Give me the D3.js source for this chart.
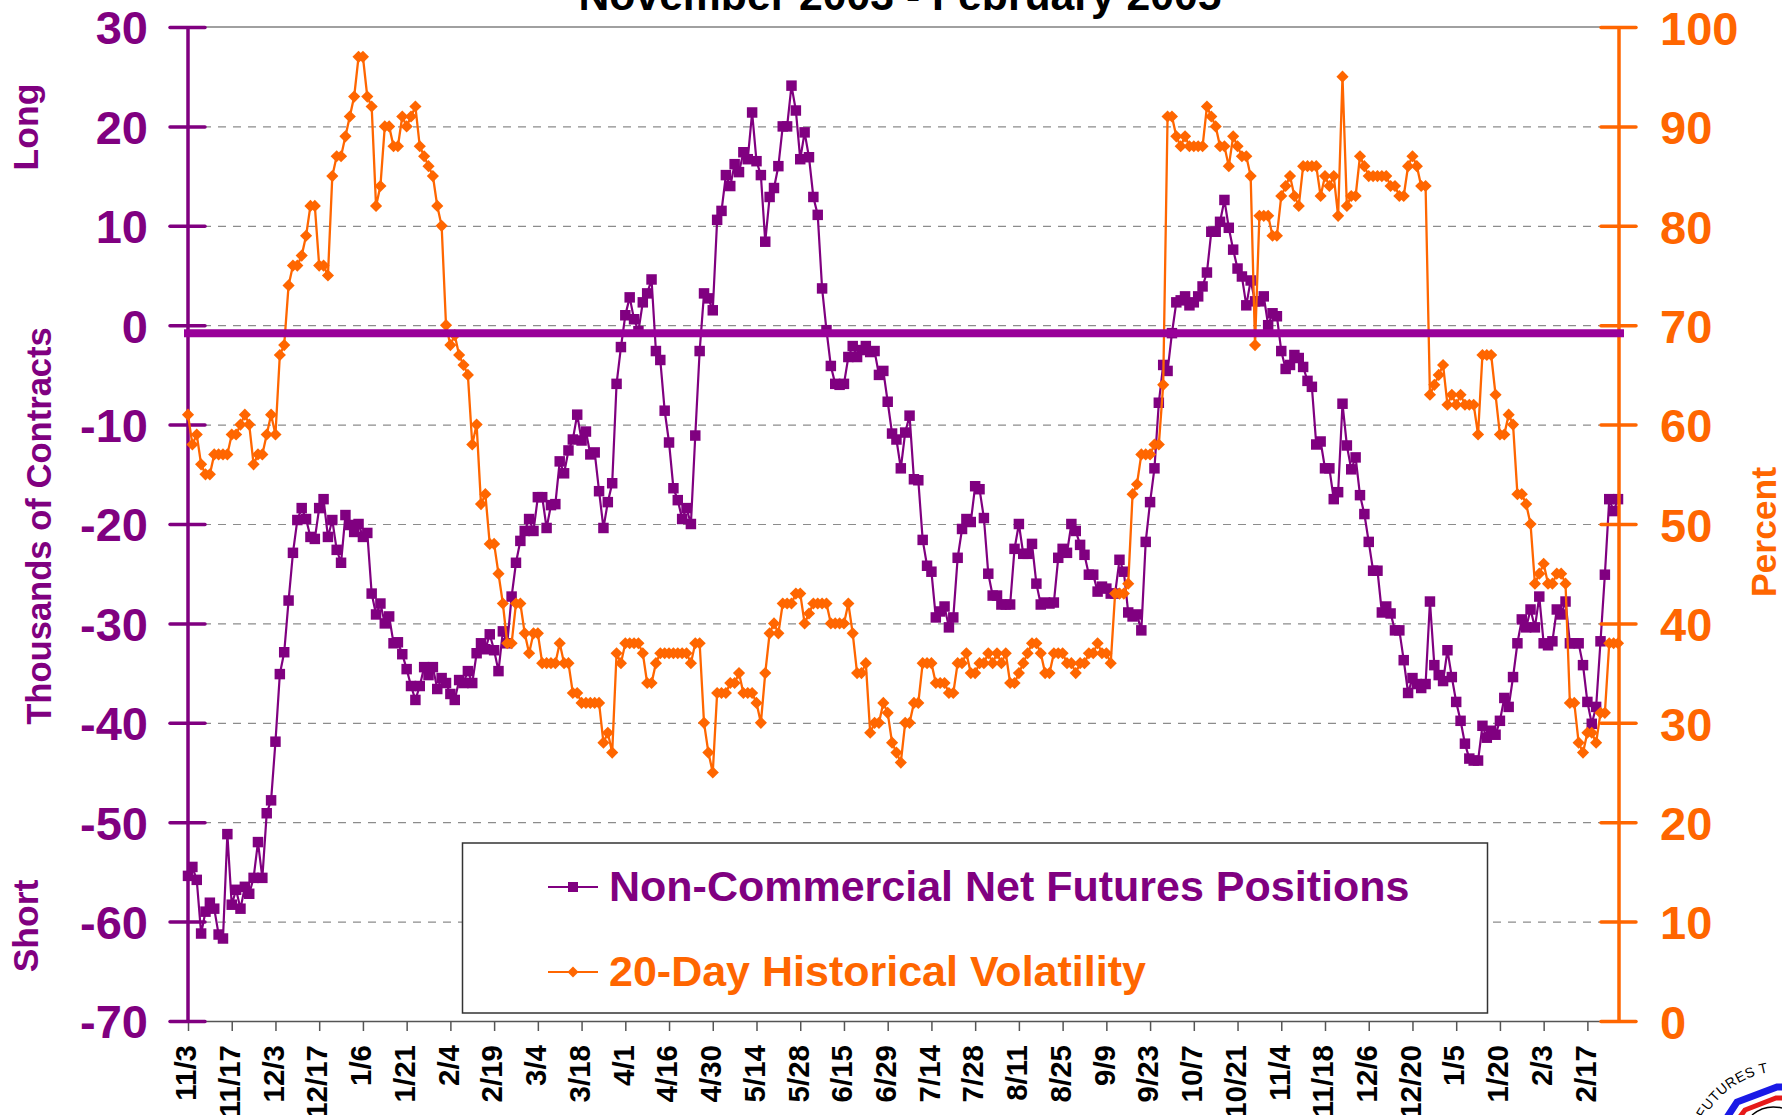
<!DOCTYPE html>
<html>
<head>
<meta charset="utf-8">
<script src="https://cdn.jsdelivr.net/npm/d3@7"></script>
<style>
  html, body { margin: 0; padding: 0; background: #fff; overflow: hidden; }
  text { font-family: "Liberation Sans", Arial, sans-serif; font-weight: bold; }
  text.thin { font-weight: normal; }
</style>
</head>
<body>
<div id="chart"></div>
<script>
const tickLabels = ['11/3','11/17','12/3','12/17','1/6','1/21','2/4','2/19','3/4','3/18','4/1','4/16','4/30','5/14','5/28','6/15','6/29','7/14','7/28','8/11','8/25','9/9','9/23','10/7','10/21','11/4','11/18','12/6','12/20','1/5','1/20','2/3','2/17'];
const leftTicks = [30, 20, 10, 0, -10, -20, -30, -40, -50, -60, -70];
const rightTicks = [100, 90, 80, 70, 60, 50, 40, 30, 20, 10, 0];

// thousands of contracts, one value per trading day
const netPositions = [
  -55.4,-54.5,-55.8,-61.2,-59.0,-58.1,-58.7,-61.3,-61.7,-51.2,
  -58.3,-56.8,-58.7,-56.5,-57.2,-55.6,-52.0,-55.6,-49.1,-47.8,
  -41.9,-35.1,-32.9,-27.7,-22.9,-19.6,-18.4,-19.5,-21.3,-21.5,
  -18.4,-17.5,-21.3,-19.6,-22.6,-23.9,-19.1,-20.1,-20.8,-20.0,
  -21.3,-20.9,-27.0,-29.1,-28.0,-30.0,-29.3,-32.0,-31.9,-33.1,
  -34.6,-36.3,-37.7,-36.3,-34.4,-35.2,-34.4,-36.6,-35.5,-36.0,
  -37.1,-37.7,-35.7,-36.0,-34.8,-36.0,-33.0,-32.0,-32.6,-31.1,
  -32.7,-34.8,-30.8,-32.0,-27.3,-23.9,-21.7,-20.7,-19.5,-20.7,
  -17.3,-17.3,-20.4,-18.1,-18.0,-13.7,-14.9,-12.6,-11.5,-9.0,
  -11.6,-10.7,-13.0,-12.8,-16.7,-20.4,-17.8,-15.9,-5.9,-2.2,
  1.0,2.8,0.6,-0.6,2.3,3.2,4.6,-2.6,-3.5,-8.6,
  -11.8,-16.4,-17.6,-19.5,-18.4,-20.0,-11.1,-2.6,3.2,2.7,
  1.5,10.6,11.5,15.1,14.0,16.2,15.4,17.4,16.7,21.4,
  16.5,15.1,8.4,12.9,13.8,16.0,20.0,20.0,24.1,21.6,
  16.7,19.4,16.9,12.9,11.1,3.7,-0.5,-4.1,-5.9,-6.0,
  -5.9,-3.2,-2.1,-3.2,-2.5,-2.1,-2.7,-2.6,-5.0,-4.6,
  -7.7,-10.9,-11.5,-14.4,-10.8,-9.1,-15.5,-15.6,-21.6,-24.2,
  -24.8,-29.4,-28.8,-28.3,-30.4,-29.4,-23.4,-20.5,-19.5,-19.8,
  -16.2,-16.5,-19.4,-25.0,-27.2,-27.2,-28.1,-28.1,-28.1,-22.5,
  -20.0,-23.0,-23.0,-22.0,-26.0,-28.1,-27.9,-28.0,-27.9,-23.4,
  -22.5,-22.9,-20.0,-20.7,-22.1,-23.1,-25.1,-25.1,-26.8,-26.3,
  -26.5,-27.0,-27.0,-23.6,-24.8,-28.9,-29.3,-29.1,-30.7,-21.8,
  -17.8,-14.4,-7.8,-4.0,-4.6,-0.8,2.3,2.5,2.9,2.0,
  2.3,2.9,3.9,5.3,9.4,9.4,10.4,12.6,9.8,7.6,
  5.7,4.9,2.0,4.5,2.4,2.4,2.9,0.0,1.2,0.9,
  -2.6,-4.4,-4.0,-3.0,-3.3,-4.2,-5.6,-6.2,-12.0,-11.7,
  -14.4,-14.4,-17.5,-16.8,-7.9,-12.1,-14.5,-13.3,-17.1,-19.0,
  -21.8,-24.7,-24.7,-28.9,-28.3,-29.0,-30.7,-30.7,-33.7,-37.0,
  -35.5,-36.1,-36.5,-36.1,-27.8,-34.2,-35.2,-35.8,-32.7,-35.4,
  -37.9,-39.8,-42.1,-43.6,-43.8,-43.8,-40.3,-41.5,-40.8,-41.2,
  -39.8,-37.5,-38.4,-35.4,-32.0,-29.6,-30.4,-28.6,-30.4,-27.3,
  -32.0,-32.2,-31.8,-28.6,-29.1,-27.8,-32.0,-32.0,-32.0,-34.2,
  -37.9,-40.1,-38.4,-31.8,-25.1,-17.5,-18.7,-17.5
];

// percent
const volatility = [
  61,58,59,56,55,55,57,57,57,57,
  59,59,60,61,60,56,57,57,59,61,
  59,67,68,74,76,76,77,79,82,82,
  76,76,75,85,87,87,89,91,93,97,
  97,93,92,82,84,90,90,88,88,91,
  90,91,92,88,87,86,85,82,80,70,
  68,69,67,66,65,58,60,52,53,48,
  48,45,42,38,38,42,42,39,37,39,
  39,36,36,36,36,38,36,36,33,33,
  32,32,32,32,32,28,29,27,37,36,
  38,38,38,38,37,34,34,36,37,37,
  37,37,37,37,37,36,38,38,30,27,
  25,33,33,33,34,34,35,33,33,33,
  32,30,35,39,40,39,42,42,42,43,
  43,40,41,42,42,42,42,40,40,40,
  40,42,39,35,35,36,29,30,30,32,
  31,28,27,26,30,30,32,32,36,36,
  36,34,34,34,33,33,36,36,37,35,
  35,36,36,37,36,37,36,37,34,34,
  35,36,37,38,38,37,35,35,37,37,
  37,36,36,35,36,36,37,37,38,37,
  37,36,43,43,43,44,53,54,57,57,
  57,58,58,64,91,91,89,88,89,88,
  88,88,88,92,91,90,88,88,86,89,
  88,87,87,85,68,81,81,81,79,79,
  83,84,85,83,82,86,86,86,86,83,
  85,84,85,81,95,82,83,83,87,86,
  85,85,85,85,85,84,84,83,83,86,
  87,86,84,84,63,64,65,66,62,63,
  62,63,62,62,62,59,67,67,67,63,
  59,59,61,60,53,53,52,50,44,45,
  46,44,44,45,45,44,32,32,28,27,
  29,29,28,31,31,38,38,38
];

const seriesNames = ['Non-Commercial Net Futures Positions', '20-Day Historical Volatility'];
const zeroBandValue = -0.8;
const pointsPerTick = 10;

const PURPLE = '#800080';
const ORANGE = '#FF6600';
const chartW = 1782, chartH = 1115;
const plotLeft = 188, plotRight = 1618, plotTop = 27, plotBottom = 1021;

const svg = d3.select('#chart').append('svg')
  .attr('width', chartW)
  .attr('height', chartH);

const x = d3.scaleLinear().domain([0, netPositions.length - 1]).range([plotLeft, plotRight]);
const yLeft = d3.scaleLinear().domain([-70, 30]).range([plotBottom, plotTop]);
const yRight = d3.scaleLinear().domain([0, 100]).range([plotBottom, plotTop]);

svg.append('text')
  .attr('x', 900).attr('y', 10)
  .attr('text-anchor', 'middle')
  .attr('font-size', 42.7)
  .text('November 2003 - February 2005');

// dashed grid
const grid = svg.append('g')
  .attr('transform', `translate(${plotLeft},0)`)
  .call(d3.axisLeft(yLeft).tickValues(leftTicks.slice(1, -1)).tickSize(-(plotRight - plotLeft)).tickFormat(''));
grid.select('.domain').remove();
grid.selectAll('line').attr('stroke', '#8c8c8c').attr('stroke-width', 1.2).attr('stroke-dasharray', '8 7');

svg.append('line').attr('x1', plotLeft).attr('x2', plotRight).attr('y1', plotTop).attr('y2', plotTop)
  .attr('stroke', '#808080').attr('stroke-width', 1.5);

// bottom axis with one label every 10 points
const xAxis = svg.append('g')
  .attr('transform', `translate(0,${plotBottom})`)
  .call(d3.axisBottom(x)
    .tickValues(tickLabels.map((d, i) => i * pointsPerTick))
    .tickFormat((d, i) => tickLabels[i])
    .tickSize(10)
    .tickSizeOuter(0));
xAxis.select('.domain').attr('stroke', '#555').attr('stroke-width', 1.5);
xAxis.selectAll('line').attr('stroke', '#555').attr('stroke-width', 1.5);
xAxis.selectAll('text')
  .attr('font-size', 29.5)
  .attr('font-family', '"Liberation Sans", Arial, sans-serif')
  .attr('fill', '#000')
  .attr('text-anchor', 'end')
  .attr('dy', null)
  .attr('dominant-baseline', 'middle')
  .attr('y', 0)
  .attr('transform', 'translate(0,24) rotate(-90)');

// left axis, ticks straddle the line
const axisLeft = svg.append('g')
  .attr('transform', `translate(${plotLeft + 17},0)`)
  .call(d3.axisLeft(yLeft).tickValues(leftTicks).tickSize(35).tickSizeOuter(0).tickPadding(22).tickFormat(d => `${d}`));
axisLeft.select('.domain').remove();
axisLeft.selectAll('line').attr('stroke', PURPLE).attr('stroke-width', 3.5).attr('stroke-linecap', 'round');
axisLeft.selectAll('text')
  .attr('font-size', 47).attr('dy', '0.36em')
  .attr('font-family', '"Liberation Sans", Arial, sans-serif').attr('fill', PURPLE);

svg.append('line').attr('x1', plotLeft).attr('x2', plotLeft).attr('y1', plotTop).attr('y2', plotBottom)
  .attr('stroke', PURPLE).attr('stroke-width', 3.5);

const lineLeft = d3.line().x((d, i) => x(i)).y(d => yLeft(d));
const lineRight = d3.line().x((d, i) => x(i)).y(d => yRight(d));

svg.append('path').datum(netPositions)
  .attr('fill', 'none').attr('stroke', PURPLE).attr('stroke-width', 2.2).attr('d', lineLeft);

const squareSym = d3.symbol().type(d3.symbolSquare).size(110);
const diamondSym = d3.symbol().type(d3.symbolSquare).size(74);
const legendSquare = d3.symbol().type(d3.symbolSquare).size(100);
const legendDiamond = d3.symbol().type(d3.symbolSquare).size(60);

svg.append('g').selectAll('path').data(netPositions).join('path')
  .attr('d', squareSym)
  .attr('fill', PURPLE)
  .attr('transform', (d, i) => `translate(${x(i)},${yLeft(d)})`);

svg.append('path').datum(volatility)
  .attr('fill', 'none').attr('stroke', ORANGE).attr('stroke-width', 2.3).attr('d', lineRight);

svg.append('g').selectAll('path').data(volatility).join('path')
  .attr('d', diamondSym)
  .attr('fill', ORANGE)
  .attr('transform', (d, i) => `translate(${x(i)},${yRight(d)}) rotate(45)`);

// right axis
const axisRight = svg.append('g')
  .attr('transform', `translate(${plotRight - 17},0)`)
  .call(d3.axisRight(yRight).tickValues(rightTicks).tickSize(35).tickSizeOuter(0).tickPadding(24));
axisRight.select('.domain').remove();
axisRight.selectAll('line').attr('stroke', ORANGE).attr('stroke-width', 3.5).attr('stroke-linecap', 'round');
axisRight.selectAll('text')
  .attr('font-size', 47).attr('dy', '0.37em')
  .attr('font-family', '"Liberation Sans", Arial, sans-serif').attr('fill', ORANGE);

svg.append('line').attr('x1', plotRight + 1).attr('x2', plotRight + 1).attr('y1', plotTop).attr('y2', plotBottom)
  .attr('stroke', ORANGE).attr('stroke-width', 3.5);

// thick line drawn over the chart just under zero
svg.append('line')
  .attr('x1', plotLeft - 4).attr('x2', plotRight + 6)
  .attr('y1', yLeft(zeroBandValue)).attr('y2', yLeft(zeroBandValue))
  .attr('stroke', '#990099').attr('stroke-width', 8);

// axis titles
const rotated = (tx, ty, label, size, color) => svg.append('text')
  .attr('transform', `translate(${tx},${ty}) rotate(-90)`)
  .attr('text-anchor', 'middle')
  .attr('font-size', size)
  .attr('fill', color)
  .text(label);

rotated(51, 526, 'Thousands of Contracts', 34.6, PURPLE);
rotated(38, 127, 'Long', 35.5, PURPLE);
rotated(38, 926, 'Short', 35.5, PURPLE);
rotated(1776, 532, 'Percent', 35.5, ORANGE);

// legend
const legend = svg.append('g');
legend.append('rect')
  .attr('x', 462.5).attr('y', 843).attr('width', 1025).attr('height', 170)
  .attr('fill', '#fff').attr('stroke', '#333').attr('stroke-width', 1.5);

[887, 972].forEach((ly, k) => {
  const color = k === 0 ? PURPLE : ORANGE;
  legend.append('line').attr('x1', 548).attr('x2', 598).attr('y1', ly).attr('y2', ly)
    .attr('stroke', color).attr('stroke-width', 2);
  legend.append('path')
    .attr('d', k === 0 ? legendSquare : legendDiamond)
    .attr('fill', color)
    .attr('transform', k === 0 ? `translate(573,${ly})` : `translate(573,${ly}) rotate(45)`);
  legend.append('text')
    .attr('x', 609).attr('y', ly + 14)
    .attr('font-size', 43)
    .attr('fill', color)
    .text(seriesNames[k]);
});

// logo, mostly cut off by the page edge
const logo = svg.append('g');
logo.append('path').attr('id', 'logoArc')
  .attr('d', 'M1704,1119 A92,92 0 0 1 1877,1165').attr('fill', 'none');
logo.append('text').attr('class', 'thin').attr('font-size', 14).attr('fill', '#000')
  .attr('letter-spacing', 0.5)
  .append('textPath').attr('href', '#logoArc').text('FUTURES T');
logo.append('path').attr('d', 'M1724,1122 L1737,1102 L1777,1087 L1790,1087')
  .attr('fill', 'none').attr('stroke', '#1a1ae6').attr('stroke-width', 7);
logo.append('path').attr('d', 'M1736,1122 L1745,1110 L1776,1098 L1790,1098')
  .attr('fill', 'none').attr('stroke', '#e61a1a').attr('stroke-width', 5);
logo.append('path').attr('d', 'M1752,1115 Q1765,1104 1782,1108')
  .attr('fill', 'none').attr('stroke', '#000').attr('stroke-width', 1.5);
</script>
</body>
</html>
